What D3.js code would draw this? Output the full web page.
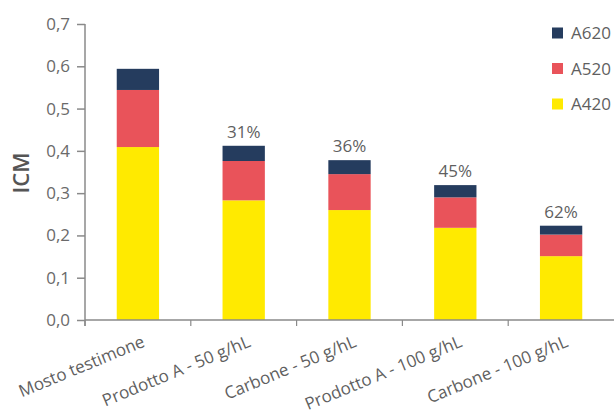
<!DOCTYPE html>
<html>
<head>
<meta charset="utf-8">
<script src="https://cdn.jsdelivr.net/npm/d3@7"></script>
<style>
  html, body { margin: 0; padding: 0; background: #fff; }
  svg { display: block; font-family: "Open Sans", "Noto Sans", sans-serif; }
</style>
</head>
<body>
<svg id="chart" width="614" height="414"></svg>
<script>
// Categories and stacked absorbance components (ICM = A420 + A520 + A620)
const categories = ["Mosto testimone", "Prodotto A - 50 g/hL", "Carbone - 50 g/hL", "Prodotto A - 100 g/hL", "Carbone - 100 g/hL"];
const seriesNames = ["A420", "A520", "A620"];
const a420 = [0.409, 0.283, 0.260, 0.218, 0.151];
const a520 = [0.135, 0.093, 0.085, 0.072, 0.051];
const a620 = [0.050, 0.036, 0.033, 0.029, 0.021];
const reductionLabels = ["", "31%", "36%", "45%", "62%"];
const yTicks = [0, 0.1, 0.2, 0.3, 0.4, 0.5, 0.6, 0.7];
const colors = { A420: "#ffea00", A520: "#e9535a", A620: "#253c5e" };

const svg = d3.select("#chart");
const margin = { left: 85, right: 0, top: 24, bottom: 94 };
const W = 614, H = 414;

const rows = categories.map((c, i) => ({ cat: c, A420: a420[i], A520: a520[i], A620: a620[i], label: reductionLabels[i] }));
const stack = d3.stack().keys(seriesNames)(rows);

const x = d3.scaleBand().domain(categories).range([margin.left, W - margin.right]).paddingInner(0.6).paddingOuter(0.3);
const y = d3.scaleLinear().domain([0, 0.7]).range([H - margin.bottom, margin.top]);

const fmt = d => d3.format(".1f")(d).replace(".", ",");

// Bars
svg.append("g").selectAll("g").data(stack).join("g")
  .attr("fill", d => colors[d.key])
  .selectAll("rect").data(d => d).join("rect")
  .attr("x", d => x(d.data.cat))
  .attr("width", x.bandwidth())
  .attr("y", d => y(d[1]))
  .attr("height", d => y(d[0]) - y(d[1]));

// Y axis
const yAxis = svg.append("g").attr("transform", `translate(${margin.left},0)`)
  .call(d3.axisLeft(y).tickValues(yTicks).tickFormat(fmt).tickSize(8).tickPadding(7));
yAxis.select(".domain").attr("d", `M0,${y(0.7)}V${y(0) + 6}`);

// X axis (ticks at band boundaries)
const xAxisG = svg.append("g").attr("transform", `translate(0,${y(0)})`);
xAxisG.append("line").attr("x1", margin.left).attr("x2", W).attr("stroke", "#8a8a8a").attr("stroke-width", 1.5);
const step = x.step();
const boundaries = categories.map((c, i) => x(c) - step * x.paddingInner() / 2);
xAxisG.selectAll(".bt").data(boundaries).join("line")
  .attr("x1", d => d).attr("x2", d => d).attr("y1", 0).attr("y2", 6)
  .attr("stroke", "#8a8a8a").attr("stroke-width", 1.2);
xAxisG.selectAll(".xl").data(categories).join("text")
  .attr("transform", c => `translate(${x(c) + x.bandwidth() / 2 + 8},${26}) rotate(-22.5)`)
  .attr("text-anchor", "end")
  .attr("font-size", 17)
  .attr("fill", "#5f5f5f")
  .text(c => c);

yAxis.selectAll("path, line").attr("stroke", "#8a8a8a").attr("stroke-width", 1.5);
yAxis.selectAll("text").attr("font-size", 17).attr("fill", "#6a6a6a").attr("font-family", "'Open Sans', sans-serif");

// Reduction labels above bars
svg.append("g").selectAll("text").data(rows.filter(r => r.label)).join("text")
  .attr("x", r => x(r.cat) + x.bandwidth() / 2)
  .attr("y", r => y(r.A420 + r.A520 + r.A620) - 8)
  .attr("text-anchor", "middle")
  .attr("font-size", 17)
  .attr("fill", "#5f5f5f")
  .text(r => r.label);

// Y title
svg.append("text")
  .attr("transform", "translate(20,173) rotate(-90)")
  .attr("text-anchor", "middle")
  .attr("dominant-baseline", "central")
  .attr("font-size", 22)
  .attr("font-weight", 600)
  .attr("fill", "#555")
  .text("ICM");

// Legend
const legendOrder = ["A620", "A520", "A420"];
const lg = svg.append("g").selectAll("g").data(legendOrder).join("g")
  .attr("transform", (d, i) => `translate(552,${33 + i * 35.5})`);
lg.append("rect").attr("x", 0).attr("y", -5.5).attr("width", 11).attr("height", 11).attr("fill", d => colors[d]);
lg.append("text").attr("x", 19).attr("dy", "0.36em").attr("font-size", 17).attr("fill", "#5f5f5f").text(d => d);
</script>
</body>
</html>
